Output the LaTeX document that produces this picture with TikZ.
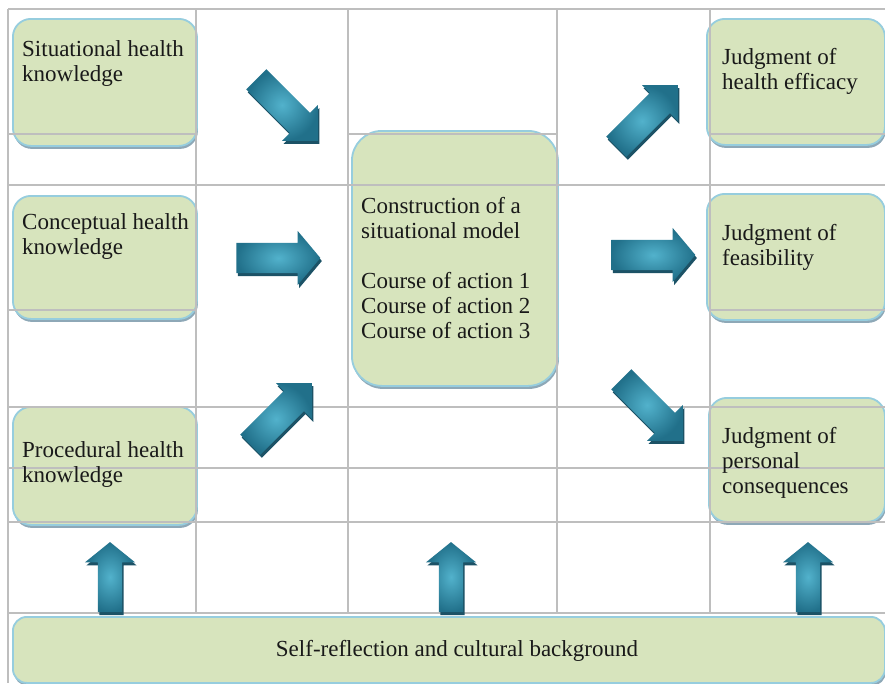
\documentclass[tikz,border=0pt]{standalone}
\usepackage{fontspec}
\setmainfont{Liberation Serif}
\usetikzlibrary{shapes.arrows,shadows}
\definecolor{boxfill}{RGB}{215,228,189}
\definecolor{boxline}{RGB}{150,205,222}
\definecolor{boxshadow}{RGB}{105,140,160}
\definecolor{gridc}{RGB}{190,190,190}
\definecolor{arrlight}{RGB}{82,178,204}
\definecolor{arrdark}{RGB}{33,112,138}
\definecolor{arrside}{RGB}{28,82,102}
\definecolor{txtc}{RGB}{25,25,25}
\begin{document}
\begin{tikzpicture}[x=1pt,y=-1pt,
  box/.style={draw=boxline, line width=1.8pt, fill=boxfill, inner sep=0pt,
    anchor=north west, rounded corners=18pt,
    drop shadow={shadow xshift=1pt, shadow yshift=-3pt, fill=boxshadow, opacity=0.75}},
  lbl/.style={text=txtc, font=\fontsize{23}{25}\selectfont, align=left,
    inner sep=0pt, anchor=north west},
  gridline/.style={draw=gridc, line width=1.5pt},
  blockarrow/.style={single arrow, inner xsep=0pt, draw=none,
    shade, inner color=arrlight, outer color=arrdark,
    single arrow head indent=0pt, minimum width=0pt,
    drop shadow={shadow xshift=1.5pt, shadow yshift=-3pt, fill=arrside, opacity=1}},
  diagarrow/.style={blockarrow, minimum height=87pt, inner ysep=14pt,
    single arrow head extend=11pt, single arrow tip angle=90},
  horizarrow/.style={blockarrow, minimum height=84pt, inner ysep=15pt,
    single arrow head extend=12pt, single arrow tip angle=100},
  uparrow/.style={blockarrow, minimum height=70pt, inner ysep=12pt,
    single arrow head extend=13pt, single arrow tip angle=102, rotate=90}
]
\useasboundingbox (0,0) rectangle (885,683);
\fill[white] (0,0) rectangle (885,683);

% boxes
\node[box, minimum width=184pt, minimum height=127pt] (sit) at (12,18) {};
\node[box, minimum width=184pt, minimum height=123pt] (con) at (12,195) {};
\node[box, minimum width=184pt, minimum height=118pt] (pro) at (12,406) {};
\node[box, minimum width=206pt, minimum height=255pt, rounded corners=30pt] (mid) at (351,130) {};
\node[box, minimum width=178pt, minimum height=126pt] (eff) at (706,18) {};
\node[box, minimum width=178pt, minimum height=126pt] (fea) at (706,193) {};
\node[box, minimum width=176pt, minimum height=124pt] (per) at (708,397) {};
\node[box, minimum width=872pt, minimum height=66pt, rounded corners=14pt] (bg) at (12,616) {};

% grid
\draw[gridline] (8,9) -- (885,9);
\draw[gridline] (8,134) -- (196,134);
\draw[gridline] (348,134) -- (557,134);
\draw[gridline] (710,134) -- (885,134);
\draw[gridline] (8,185) -- (885,185);
\draw[gridline] (8,310) -- (196,310);
\draw[gridline] (710,310) -- (885,310);
\draw[gridline] (8,407) -- (885,407);
\draw[gridline] (8,468) -- (885,468);
\draw[gridline] (8,522) -- (885,522);
\draw[gridline] (8,613) -- (885,613);
\draw[gridline] (8,9) -- (8,683);
\foreach \gx in {196,348,557,710} \draw[gridline] (\gx,9) -- (\gx,613);

% arrows
\node[diagarrow, rotate=-45] (a1) at (282,105) {};
\node[horizarrow] (a2) at (272,258) {};
\node[diagarrow, rotate=45] (a3) at (276,419) {};
\node[diagarrow, rotate=45] (a4) at (642,121) {};
\node[horizarrow] (a5) at (647,255) {};
\node[diagarrow, rotate=-45] (a6) at (647,405) {};
\node[uparrow] (u1) at (110,582) {};
\node[uparrow] (u2) at (451,582) {};
\node[uparrow] (u3) at (808,582) {};

% labels
\node[lbl] (tsit) at (22,40) {Situational health\\knowledge};
\node[lbl] (tcon) at (22,213.5) {Conceptual health\\knowledge};
\node[lbl] (tpro) at (22,441.5) {Procedural health\\knowledge};
\node[lbl] (tmid) at (361,197.5) {Construction of a\\situational model\\[25pt]Course of action 1\\Course of action 2\\Course of action 3};
\node[lbl] (teff) at (722,48.5) {Judgment of\\health efficacy};
\node[lbl] (tfea) at (722,224.5) {Judgment of\\feasibility};
\node[lbl] (tper) at (722,427.5) {Judgment of\\personal\\consequences};
\node[text=txtc, font=\fontsize{23}{25}\selectfont, inner sep=0pt, anchor=base] (tbg) at (457,656) {Self-reflection and cultural background};
\end{tikzpicture}
\end{document}
